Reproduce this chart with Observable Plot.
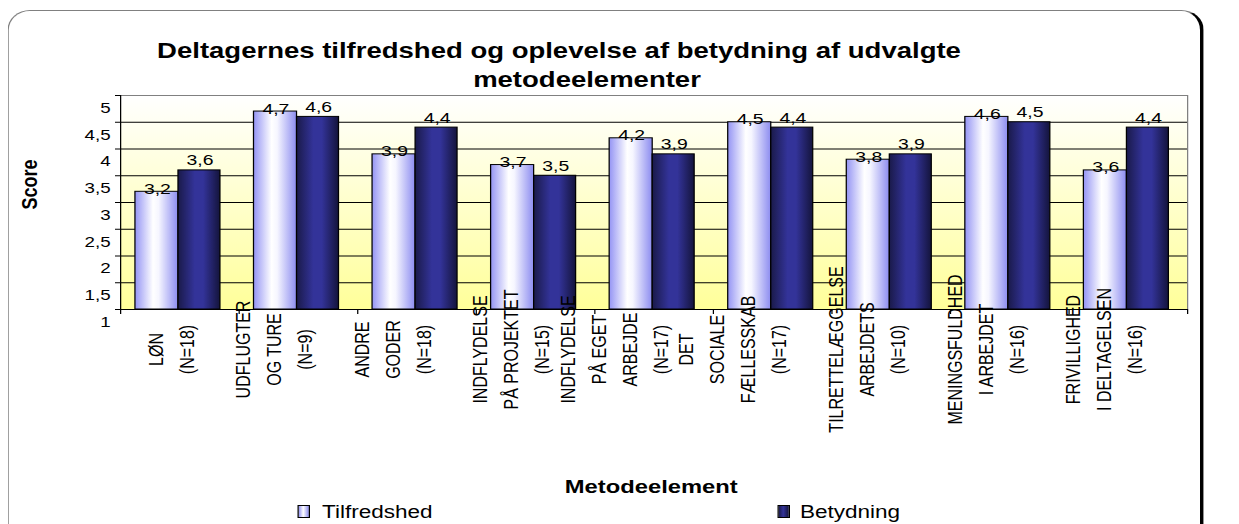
<!DOCTYPE html>
<html>
<head>
<meta charset="utf-8">
<script src="https://cdn.jsdelivr.net/npm/d3@7"></script>
<script src="https://cdn.jsdelivr.net/npm/@observablehq/plot@0.6"></script>
<style>
html, body { margin: 0; padding: 0; background: #fff; width: 1239px; height: 524px; overflow: hidden; }
#stage { position: absolute; left: 0; top: 0; width: 991px; height: 524px; transform: scaleX(1.25); transform-origin: 0 0;
  font-family: "Liberation Sans", Arial, sans-serif; color: #000; }
#box { position: absolute; left: 6px; top: 10px; width: 957px; height: 545px; box-sizing: border-box;
  border: 1px solid #808080; border-right: 3.2px solid #000; border-radius: 18px / 20px; }
.title { position: absolute; width: 900px; text-align: center; white-space: nowrap; font-weight: bold; font-size: 22px; line-height: 22px; }
#chart { position: absolute; left: 0; top: 90px; }
#xtitle { position: absolute; left: 321px; width: 400px; top: 476px; text-align: center; font-weight: bold; font-size: 19px; line-height: 22px; white-space: nowrap; }
.sw { position: absolute; top: 505px; width: 10.4px; height: 13px; box-sizing: border-box; border: 1px solid #000; }
.lt { position: absolute; top: 503px; font-size: 18px; line-height: 18px; white-space: nowrap; }
</style>
</head>
<body>
<div id="stage">
  <div id="box"></div>
  <div class="title" style="left:-2.8px; top:40.4px;" id="t1"></div>
  <div class="title" style="left:19.6px; top:69.4px;" id="t2"></div>
  <div id="chart"></div>
  <div id="xtitle"></div>
  <div class="sw" style="left:237.6px; background: linear-gradient(to right, #9494f4, #ffffff 45%, #8c8cf0);"></div>
  <div class="lt" style="left:257.6px;" id="l1"></div>
  <div class="sw" style="left:621.6px; background: linear-gradient(to right, #1a1a4a, #333399 45%, #14143c);"></div>
  <div class="lt" style="left:640px;" id="l2"></div>
</div>
<script>
// ---- data ----
const titleLines = ["Deltagernes tilfredshed og oplevelse af betydning af udvalgte", "metodeelementer"];
const yTitle = "Score";
const xTitle = "Metodeelement";
const seriesNames = ["Tilfredshed", "Betydning"];
const categoryLabels = [
  ["LØN", "(N=18)"],
  ["UDFLUGTER", "OG TURE", "(N=9)"],
  ["ANDRE", "GODER", "(N=18)"],
  ["INDFLYDELSE", "PÅ PROJEKTET", "(N=15)"],
  ["INDFLYDELSE", "PÅ EGET", "ARBEJDE", "(N=17)"],
  ["DET", "SOCIALE", "FÆLLESSKAB", "(N=17)"],
  ["TILRETTELÆGGELSE", "ARBEJDETS", "(N=10)"],
  ["MENINGSFULDHED", "I ARBEJDET", "(N=16)"],
  ["FRIVILLIGHED", "I DELTAGELSEN", "(N=16)"]
];
const tilfredshed = [3.2, 4.7, 3.9, 3.7, 4.2, 4.5, 3.8, 4.6, 3.6];
const betydning   = [3.6, 4.6, 4.4, 3.5, 3.9, 4.4, 3.9, 4.5, 4.4];
const yTicks = [1, 1.5, 2, 2.5, 3, 3.5, 4, 4.5, 5];
const yDomain = [1, 5];

// ---- html text ----
document.getElementById("t1").textContent = titleLines[0];
document.getElementById("t2").textContent = titleLines[1];
document.getElementById("xtitle").textContent = xTitle;
document.getElementById("l1").textContent = seriesNames[0];
document.getElementById("l2").textContent = seriesNames[1];

const fmt = v => String(v).replace(".", ",");
const n = categoryLabels.length;
const rowsT = tilfredshed.map((v, i) => ({i, v}));
const rowsB = betydning.map((v, i) => ({i, v}));
const labelRows = categoryLabels.map((lines, i) => ({i, text: lines.join("\n")}));
const boundaries = d3.range(n + 1);
const grid = yTicks.filter(t => t > yDomain[0] && t < yDomain[1]);

const defs = () => {
  const g = document.createElementNS("http://www.w3.org/2000/svg", "defs");
  g.innerHTML = `
    <linearGradient id="plotBg" x1="0" y1="0" x2="0" y2="1">
      <stop offset="0" stop-color="#ffffff"/><stop offset="1" stop-color="#ffff99"/>
    </linearGradient>
    <linearGradient id="gradT" x1="0" y1="0" x2="1" y2="0">
      <stop offset="0" stop-color="#9494f4"/><stop offset="0.42" stop-color="#ffffff"/>
      <stop offset="0.55" stop-color="#f6f6ff"/><stop offset="1" stop-color="#8c8cf0"/>
    </linearGradient>
    <linearGradient id="gradB" x1="0" y1="0" x2="1" y2="0">
      <stop offset="0" stop-color="#1a1a4a"/><stop offset="0.4" stop-color="#333399"/>
      <stop offset="0.6" stop-color="#333399"/><stop offset="1" stop-color="#14143c"/>
    </linearGradient>`;
  return g;
};

const chart = Plot.plot({
  width: 991,
  height: 380,
  marginTop: 5,
  marginBottom: 161,
  marginLeft: 96,
  marginRight: 41.4,
  style: {fontFamily: "Liberation Sans, Arial, sans-serif", fontSize: "15px", background: "transparent", overflow: "visible", color: "#000"},
  x: {type: "linear", domain: [0, n], axis: null},
  y: {domain: yDomain, axis: null},
  marks: [
    defs,
    Plot.frame({fill: "url(#plotBg)", stroke: null}),
    Plot.ruleY(grid, {stroke: "#000", strokeWidth: 1}),
    Plot.ruleY([yDomain[1]], {stroke: "#808080"}),
    Plot.ruleX([n], {stroke: "#808080"}),
    Plot.rectY(rowsT, {x1: d => d.i + 0.126, x2: d => d.i + 0.489, y1: () => yDomain[0], y2: "v", fill: "url(#gradT)", stroke: "#000", strokeWidth: 1}),
    Plot.rectY(rowsB, {x1: d => d.i + 0.489, x2: d => d.i + 0.843, y1: () => yDomain[0], y2: "v", fill: "url(#gradB)", stroke: "#000", strokeWidth: 1}),
    Plot.ruleY([yDomain[0]], {stroke: "#000"}),
    Plot.ruleX([0], {stroke: "#000"}),
    Plot.axisY(yTicks, {tickSize: 4, tickFormat: () => "", label: null, stroke: "#000"}),
    Plot.text(yTicks, {y: d => d, frameAnchor: "left", textAnchor: "end", dx: -8, dy: 12.5, text: fmt, fontSize: 15, fill: "#000"}),
    Plot.axisX(boundaries, {tickSize: 5, tickFormat: () => "", label: null, stroke: "#000"}),
    Plot.text(rowsT, {x: d => d.i + 0.31, y: "v", text: d => fmt(d.v), lineAnchor: "bottom", dy: 2, fontSize: 15.5, fill: "#000"}),
    Plot.text(rowsB, {x: d => d.i + 0.67, y: "v", text: d => fmt(d.v), lineAnchor: "bottom", dy: -5, fontSize: 15.5, fill: "#000"}),
    Plot.text(labelRows, {x: d => d.i + 0.5, frameAnchor: "bottom", text: "text", rotate: -90, textAnchor: "middle", lineAnchor: "bottom", lineHeight: 1.55, fontSize: 16, dx: 11, dy: 40, fill: "#000"}),
    Plot.text([yTitle], {frameAnchor: "left", text: d => d, rotate: -90, textAnchor: "middle", dx: -72.8, dy: -18, fontSize: 18, fontWeight: "bold", fill: "#000"})
  ]
});
document.getElementById("chart").appendChild(chart);
</script>
</body>
</html>
